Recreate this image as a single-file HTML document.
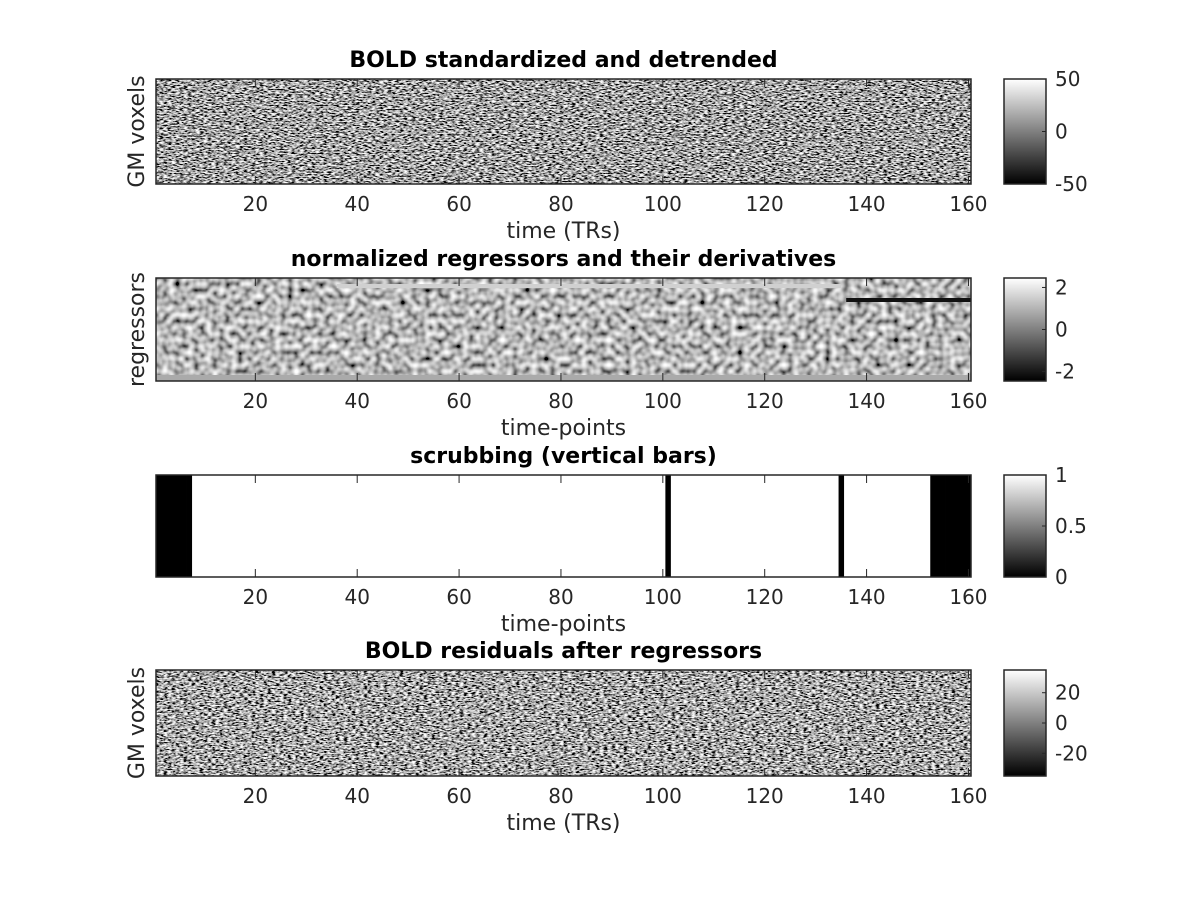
<!DOCTYPE html>
<html><head><meta charset="utf-8">
<style>
html,body{margin:0;padding:0;background:#fff;}
svg{display:block;font-family:"DejaVu Sans","Liberation Sans",sans-serif;}
.tk{font-size:20px;fill:#262626;}
.lb{font-size:22px;fill:#262626;}
.tt{font-size:22px;font-weight:bold;fill:#000;}
</style></head>
<body>
<svg id="fig" width="1200" height="900" viewBox="0 0 1200 900">
<defs>
  <filter id="grayBold" x="0" y="0" width="100%" height="100%">
    <feTurbulence type="fractalNoise" baseFrequency="0.25 0.75" numOctaves="2" seed="7" result="t"/>
    <feColorMatrix in="t" type="matrix" values="3 0 0 0 -1.1  3 0 0 0 -1.1  3 0 0 0 -1.1  0 0 0 0 1"/>
  </filter>
  <filter id="grayBold2" x="0" y="0" width="100%" height="100%">
    <feTurbulence type="fractalNoise" baseFrequency="0.25 0.75" numOctaves="2" seed="19" result="t"/>
    <feColorMatrix in="t" type="matrix" values="3 0 0 0 -1.08  3 0 0 0 -1.08  3 0 0 0 -1.08  0 0 0 0 1"/>
  </filter>
  <filter id="grayReg" x="0" y="0" width="100%" height="100%">
    <feTurbulence type="fractalNoise" baseFrequency="0.16 0.16" numOctaves="1" seed="11" result="t"/>
    <feColorMatrix in="t" type="matrix" values="1.7 0 0 0 -0.37  1.7 0 0 0 -0.37  1.7 0 0 0 -0.37  0 0 0 0 1"/>
  </filter>
  <linearGradient id="cbGrad" x1="0" y1="1" x2="0" y2="0">
    <stop offset="0" stop-color="#000"/><stop offset="1" stop-color="#fff"/>
  </linearGradient>
</defs>
<g id="root"></g>
</svg>
<script>
// ---- data ----
var xTicks = [20, 40, 60, 80, 100, 120, 140, 160];
var nTime = 160;
var censoredStart = [1, 2, 3, 4, 5, 6, 7];
var censoredMid = [101, 135];
var censoredEnd = [153, 154, 155, 156, 157, 158, 159, 160];
var cb1Ticks = [50, 0, -50];
var cb2Ticks = [2, 0, -2];
var cb3Ticks = [1, 0.5, 0];
var cb4Ticks = [20, 0, -20];
var cbRange1 = [-50, 50];
var cbRange2 = [-2.45, 2.45];
var cbRange3 = [0, 1];
var cbRange4 = [-35, 35];

// ---- layout ----
var NS = "http://www.w3.org/2000/svg";
var root = document.getElementById('root');
var AX_L = 156, AX_R = 971, CB_L = 1004, CB_R = 1046;
function xScale(t){ return AX_L + (t - 0.5) * (AX_R - AX_L) / nTime; }
function mk(tag, attrs, parent){
  var e = document.createElementNS(NS, tag);
  for (var k in attrs) e.setAttribute(k, attrs[k]);
  (parent || root).appendChild(e);
  return e;
}
function txt(s, attrs, parent){ var e = mk('text', attrs, parent); e.textContent = s; return e; }

var panels = [
  {top:79, bot:184, title:'BOLD standardized and detrended', xl:'time (TRs)', yl:'GM voxels', kind:'bold', filt:'grayBold', cbt:cb1Ticks, cbr:cbRange1, key:'bold'},
  {top:278, bot:381, title:'normalized regressors and their derivatives', xl:'time-points', yl:'regressors', kind:'reg', filt:'grayReg', cbt:cb2Ticks, cbr:cbRange2, key:'regressors'},
  {top:475, bot:577, title:'scrubbing (vertical bars)', xl:'time-points', yl:'', kind:'scrub', cbt:cb3Ticks, cbr:cbRange3, key:'scrubbing'},
  {top:670, bot:776, title:'BOLD residuals after regressors', xl:'time (TRs)', yl:'GM voxels', kind:'bold', filt:'grayBold2', cbt:cb4Ticks, cbr:cbRange4, key:'residuals'}
];

panels.forEach(function(p){
  var g = mk('g', {});
  
  
  var h = p.bot - p.top;
  if (p.kind === 'scrub') {
    var bg = mk('rect', {x:AX_L, y:p.top, width:AX_R-AX_L, height:h, fill:'#fff'}, g);
    
    
    var all = censoredStart.concat(censoredMid, censoredEnd);
    all.forEach(function(t){
      var r = mk('rect', {x:xScale(t-0.5), y:p.top, width:xScale(t+0.5)-xScale(t-0.5)+0.4, height:h, fill:'#000'}, g);
      
      
    });
  } else {
    var im = mk('rect', {x:AX_L, y:p.top, width:AX_R-AX_L, height:h, fill:'#888', filter:'url(#'+p.filt+')'}, g);
    
    
    if (p.kind === 'reg') {
      var s1 = mk('rect', {x:xScale(36), y:p.top+6, width:xScale(135)-xScale(36), height:4, fill:'#d0d0d0'}, g);
      
      
      var s2 = mk('rect', {x:xScale(136), y:p.top+20, width:xScale(160.5)-xScale(136), height:4, fill:'#111'}, g);
      
      
      var s3 = mk('rect', {x:AX_L, y:p.bot-6, width:AX_R-AX_L, height:6, fill:'#aaa'}, g);
      
      
    }
  }
  var fr = mk('rect', {x:AX_L, y:p.top, width:AX_R-AX_L, height:h, fill:'none', stroke:'#262626', 'stroke-width':1.5}, g);
  
  
  xTicks.forEach(function(t){
    var x = xScale(t);
    mk('line', {x1:x, x2:x, y1:p.bot, y2:p.bot-8, stroke:'#262626', 'stroke-width':1}, g);
    mk('line', {x1:x, x2:x, y1:p.top, y2:p.top+8, stroke:'#262626', 'stroke-width':1}, g);
    var tl = txt(String(t), {x:x, y:p.bot+27, 'text-anchor':'middle', 'class':'tk'}, g);
    
    
  });
  var xl = txt(p.xl, {x:(AX_L+AX_R)/2, y:p.bot+54, 'text-anchor':'middle', 'class':'lb'}, g);
  
  
  if (p.yl) {
    var yl = txt(p.yl, {x:0, y:0, 'text-anchor':'middle', 'class':'lb', transform:'translate(144,'+((p.top+p.bot)/2)+') rotate(-90)'}, g);
    
    
  }
  var tt = txt(p.title, {x:(AX_L+AX_R)/2, y:p.top-12, 'text-anchor':'middle', 'class':'tt'}, g);
  
  
  // colorbar
  var cb = mk('rect', {x:CB_L, y:p.top, width:CB_R-CB_L, height:h, fill:'url(#cbGrad)', stroke:'#262626', 'stroke-width':1.5}, g);
  
  
  p.cbt.forEach(function(v){
    var y = p.bot - (v - p.cbr[0]) / (p.cbr[1] - p.cbr[0]) * h;
    mk('line', {x1:CB_R, x2:CB_R-4, y1:y, y2:y, stroke:'#262626'}, g);
    var cl = txt(String(v), {x:CB_R+9, y:y+7, 'class':'tk'}, g);
    
    
  });
});
</script>
</body></html>
